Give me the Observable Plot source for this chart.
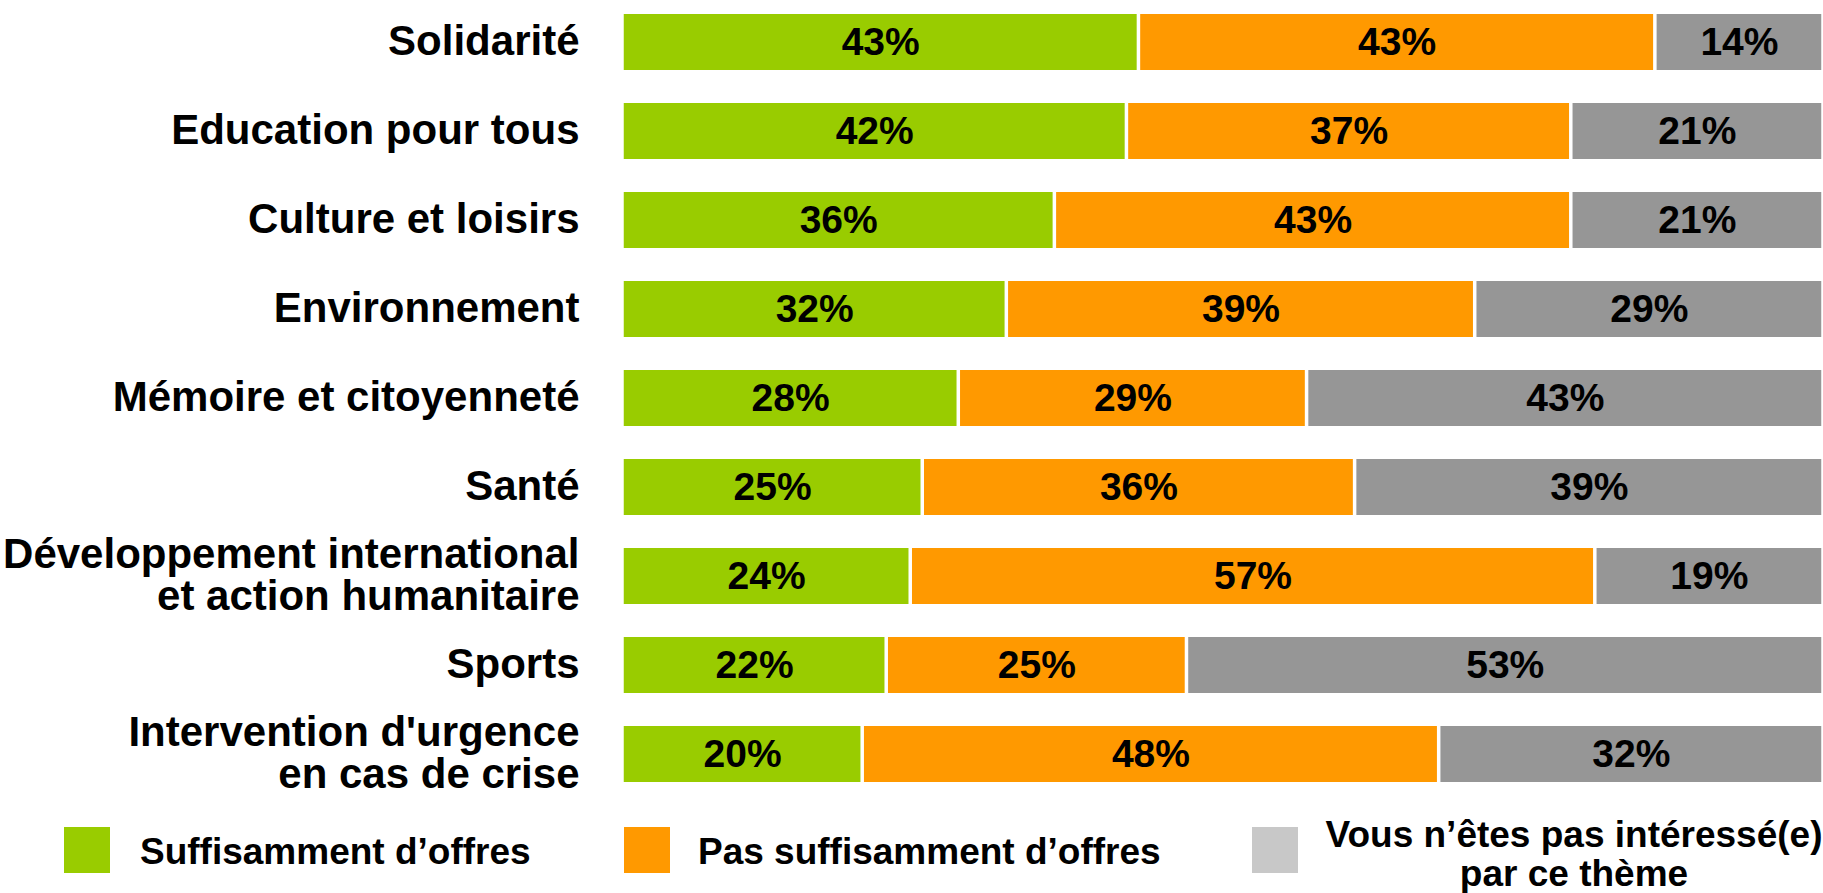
<!DOCTYPE html>
<html>
<head>
<meta charset="utf-8">
<script src="https://cdn.jsdelivr.net/npm/d3@7"></script>
<script src="https://cdn.jsdelivr.net/npm/@observablehq/plot@0.6"></script>
<style>
  html, body { margin: 0; padding: 0; background: #fff; }
  body { width: 1823px; height: 893px; overflow: hidden; font-family: "Liberation Sans", Arial, sans-serif; }
  #chart svg { display: block; }
  #legend { position: relative; width: 1823px; height: 98px; font-weight: bold; font-size: 37px; color: #000; }
  .sw { position: absolute; width: 46px; height: 46px; top: 32px; }
  .lt { position: absolute; line-height: 42px; white-space: nowrap; }
</style>
</head>
<body>
<div id="chart"></div>
<div id="legend"></div>
<script>
const categories = [
  "Solidarité",
  "Education pour tous",
  "Culture et loisirs",
  "Environnement",
  "Mémoire et citoyenneté",
  "Santé",
  "Développement international\net action humanitaire",
  "Sports",
  "Intervention d'urgence\nen cas de crise"
];
const suffisant = [43, 42, 36, 32, 28, 25, 24, 22, 20];
const pasSuffisant = [43, 37, 43, 39, 29, 36, 57, 25, 48];
const pasInteresse = [14, 21, 21, 29, 43, 39, 19, 53, 32];
const seriesNames = ["Suffisamment d’offres", "Pas suffisamment d’offres", "Vous n’êtes pas intéressé(e)\npar ce thème"];
const barColors = ["#99CC00", "#FF9900", "#969696"];
const legendColors = ["#99CC00", "#FF9900", "#C8C8C8"];

const seriesValues = [suffisant, pasSuffisant, pasInteresse];
const data = [];
categories.forEach((c, i) => {
  seriesValues.forEach((vals, s) => {
    data.push({cat: c, series: seriesNames[s], value: vals[i]});
  });
});

const chart = Plot.plot({
  width: 1823,
  height: 795,
  marginLeft: 622,
  marginRight: 0,
  marginTop: 0,
  marginBottom: 0,
  style: {fontFamily: "'Liberation Sans', Arial, sans-serif", background: "#fff", color: "#000"},
  x: {domain: [0, 100], axis: null},
  y: {domain: categories, paddingInner: 0.374, paddingOuter: 0.13, label: null},
  color: {domain: seriesNames, range: barColors},
  marks: [
    Plot.barX(data, Plot.stackX({
      x: "value", y: "cat", fill: "series", order: null,
      insetLeft: 1.75, insetRight: 1.75
    })),
    Plot.text(data, Plot.stackX({
      x: "value", y: "cat", z: "series", order: null,
      text: d => d.value + "%",
      fontSize: 39, fontWeight: "bold", fill: "#000"
    })),
    Plot.axisY({
      tickSize: 0, tickPadding: 43, fontSize: 42, fontWeight: "bold",
      label: null, lineHeight: 1.0, dy: -1, fill: "#000"
    })
  ]
});
document.getElementById("chart").appendChild(chart);

// Legend
const legend = document.getElementById("legend");
const swatchLeft = [64, 624, 1252];
seriesNames.forEach((name, i) => {
  const sw = document.createElement("div");
  sw.className = "sw";
  sw.style.left = swatchLeft[i] + "px";
  sw.style.background = legendColors[i];
  legend.appendChild(sw);
});
const t1 = document.createElement("div");
t1.className = "lt"; t1.style.left = "140px"; t1.style.top = "36px";
t1.textContent = seriesNames[0];
legend.appendChild(t1);
const t2 = document.createElement("div");
t2.className = "lt"; t2.style.left = "698px"; t2.style.top = "36px";
t2.textContent = seriesNames[1];
legend.appendChild(t2);
const t3 = document.createElement("div");
t3.className = "lt"; t3.style.left = "1320px"; t3.style.width = "508px"; t3.style.top = "20px";
t3.style.lineHeight = "39px";
t3.style.textAlign = "center"; t3.style.whiteSpace = "pre-line";
t3.textContent = seriesNames[2];
legend.appendChild(t3);
</script>
</body>
</html>
